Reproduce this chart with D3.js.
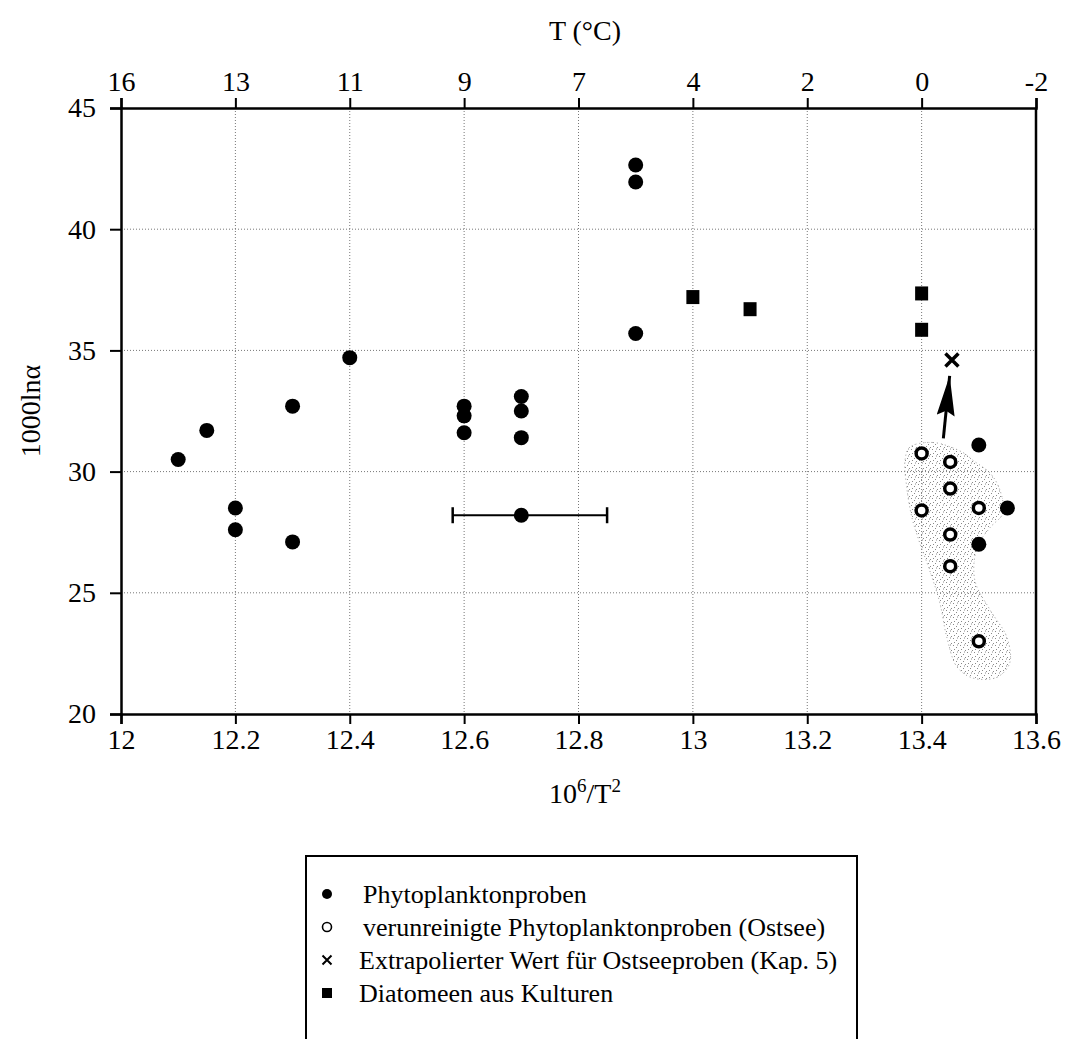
<!DOCTYPE html>
<html lang="de">
<head>
<meta charset="UTF-8"/>
<title>1000ln alpha vs 10^6/T^2</title>
<script src="https://d3js.org/d3.v7.min.js"></script>
<style>
  body { margin: 0; background: #fff; }
  svg text { font-family: "Liberation Serif", "DejaVu Serif", serif; fill: #000; }
  .axis path, .axis line { stroke: #000; }
</style>
</head>
<body>
<div id="chart"></div>
<script>

// window size
var w = 1077;
var h = 1039;

// plot area
var padLeft = 121, padRight = 1036, padTop = 108, padBottom = 714;

// tick values and labels
var xTicks = [12, 12.2, 12.4, 12.6, 12.8, 13, 13.2, 13.4, 13.6];
var tempLabels = ["16", "13", "11", "9", "7", "4", "2", "0", "-2"];
var yTicks = [20, 25, 30, 35, 40, 45];

// Phytoplanktonproben (filled circles)
var phytoX = [12.1, 12.15, 12.2, 12.2, 12.3, 12.3, 12.4, 12.6, 12.6, 12.6, 12.7, 12.7, 12.7, 12.7, 12.9, 12.9, 12.9, 13.5, 13.55, 13.5];
var phytoY = [30.5, 31.7, 28.5, 27.6, 32.7, 27.1, 34.7, 32.7, 32.3, 31.6, 33.1, 32.5, 31.4, 28.2, 42.65, 41.95, 35.7, 31.1, 28.5, 27.0];

// error bar on the point at 12.7 / 28.2
var errX = [12.58, 12.85];
var errY = 28.2;

// verunreinigte Phytoplanktonproben (Ostsee), open circles
var ostX = [13.4, 13.45, 13.45, 13.4, 13.5, 13.45, 13.45, 13.5];
var ostY = [30.75, 30.4, 29.3, 28.4, 28.5, 27.4, 26.1, 23.0];

// Extrapolierter Wert (cross)
var extraX = [13.453];
var extraY = [34.6];

// arrow from the Ostsee cloud to the extrapolated value
var arrowX = [13.438, 13.449];
var arrowY = [31.37, 33.95];

// Diatomeen aus Kulturen (squares)
var diaX = [13.0, 13.1, 13.4, 13.4];
var diaY = [37.2, 36.7, 37.35, 35.85];

// outline of the stippled area round the Ostsee samples
var blobX = [13.379, 13.42, 13.472, 13.49, 13.52, 13.537, 13.542, 13.52, 13.497, 13.493, 13.52, 13.549, 13.554, 13.532, 13.49, 13.462, 13.444, 13.432, 13.414, 13.397, 13.383, 13.374, 13.371];
var blobY = [31.0, 31.2, 30.79, 30.46, 29.93, 29.23, 28.28, 27.7, 26.88, 25.52, 24.28, 23.17, 22.1, 21.52, 21.48, 21.94, 23.17, 24.57, 25.93, 27.04, 28.11, 29.35, 30.46];

// legend entries
var legendNames = [
  "Phytoplanktonproben",
  "verunreinigte Phytoplanktonproben (Ostsee)",
  "Extrapolierter Wert für Ostseeproben (Kap. 5)",
  "Diatomeen aus Kulturen"
];
var legendKinds = ["filled", "open", "cross", "square"];

var xScale = d3.scaleLinear().domain([12, 13.6]).range([padLeft, padRight]);
var yScale = d3.scaleLinear().domain([20, 45]).range([padBottom, padTop]);

var svg = d3.select("#chart")
            .append("svg")
            .attr("width", w)
            .attr("height", h);

// stipple pattern
var defs = svg.append("defs");
var pat = defs.append("pattern")
              .attr("id", "stipple")
              .attr("width", 7)
              .attr("height", 7)
              .attr("patternUnits", "userSpaceOnUse");
[[1, 1], [4, 3], [2, 5], [6, 6], [5, 0.5]].forEach(function(p) {
  pat.append("rect").attr("x", p[0]).attr("y", p[1])
     .attr("width", 1).attr("height", 1).attr("fill", "#8a8a8a");
});
defs.append("marker")
    .attr("id", "head")
    .attr("viewBox", "0 0 40 18")
    .attr("refX", 40).attr("refY", 9)
    .attr("markerUnits", "userSpaceOnUse")
    .attr("markerWidth", 40).attr("markerHeight", 18)
    .attr("orient", "auto")
    .append("path")
    .attr("d", "M0,0 L40,9 L0,18 L5,9 Z")
    .attr("fill", "#000");

// grid lines
svg.append("g")
   .selectAll("line")
   .data(xTicks.slice(1, -1))
   .enter()
   .append("line")
   .attr("x1", function(d) { return xScale(d); })
   .attr("x2", function(d) { return xScale(d); })
   .attr("y1", padTop)
   .attr("y2", padBottom)
   .attr("stroke", "#777")
   .attr("stroke-width", 1)
   .attr("stroke-dasharray", "1,2");

svg.append("g")
   .selectAll("line")
   .data(yTicks.slice(1, -1))
   .enter()
   .append("line")
   .attr("x1", padLeft)
   .attr("x2", padRight)
   .attr("y1", function(d) { return yScale(d); })
   .attr("y2", function(d) { return yScale(d); })
   .attr("stroke", "#777")
   .attr("stroke-width", 1)
   .attr("stroke-dasharray", "1,2");

// stippled area
var blobPts = blobX.map(function(d, i) { return [xScale(d), yScale(blobY[i])]; });
svg.append("path")
   .attr("d", d3.line().curve(d3.curveCatmullRomClosed)(blobPts))
   .attr("fill", "url(#stipple)")
   .attr("stroke", "#999")
   .attr("stroke-width", 1)
   .attr("stroke-dasharray", "1,3");

// axes
var xAxis = d3.axisBottom(xScale)
              .tickValues(xTicks)
              .tickSize(10)
              .tickPadding(5)
              .tickFormat(function(d) { return String(+d.toFixed(1)); });
var topAxis = d3.axisTop(xScale)
                .tickValues(xTicks)
                .tickSize(10)
                .tickPadding(7)
                .tickFormat(function(d, i) { return tempLabels[i]; });
var yAxis = d3.axisLeft(yScale)
              .tickValues(yTicks)
              .tickSize(11)
              .tickPadding(14)
              .tickFormat(d3.format("d"));

function styleAxis(g) {
  g.select(".domain").attr("stroke-width", 2.5);
  g.selectAll(".tick line").attr("stroke-width", 2);
  g.selectAll(".tick text").attr("font-size", 28).attr("font-family", "Liberation Serif");
}

svg.append("g").attr("class", "axis")
   .attr("transform", "translate(0," + padBottom + ")")
   .call(xAxis).call(styleAxis);
svg.append("g").attr("class", "axis")
   .attr("transform", "translate(0," + padTop + ")")
   .call(topAxis).call(styleAxis);
svg.append("g").attr("class", "axis")
   .attr("transform", "translate(" + padLeft + ",0)")
   .call(yAxis).call(styleAxis);
svg.append("line")
   .attr("x1", padRight).attr("x2", padRight)
   .attr("y1", padTop).attr("y2", padBottom)
   .attr("stroke", "#000").attr("stroke-width", 2.5);

// axis titles
svg.append("text")
   .attr("x", 585)
   .attr("y", 40)
   .attr("text-anchor", "middle")
   .attr("font-size", 28)
   .text("T (°C)");

var xt = svg.append("text")
            .attr("x", 585)
            .attr("y", 803)
            .attr("text-anchor", "middle")
            .attr("font-size", 28);
xt.append("tspan").text("10");
xt.append("tspan").attr("dy", -11).attr("font-size", 19).text("6");
xt.append("tspan").attr("dy", 11).text("/T");
xt.append("tspan").attr("dy", -11).attr("font-size", 19).text("2");

svg.append("text")
   .attr("transform", "translate(40," + ((padTop + padBottom) / 2) + ") rotate(-90)")
   .attr("text-anchor", "middle")
   .attr("font-size", 28)
   .text("1000lnα");

// error bar
svg.append("line")
   .attr("x1", xScale(errX[0])).attr("x2", xScale(errX[1]))
   .attr("y1", yScale(errY)).attr("y2", yScale(errY))
   .attr("stroke", "#000").attr("stroke-width", 2);
svg.selectAll(".cap")
   .data(errX)
   .enter()
   .append("line")
   .attr("class", "cap")
   .attr("x1", function(d) { return xScale(d); })
   .attr("x2", function(d) { return xScale(d); })
   .attr("y1", yScale(errY) - 8)
   .attr("y2", yScale(errY) + 8)
   .attr("stroke", "#000").attr("stroke-width", 2.5);

// arrow
svg.append("line")
   .attr("x1", xScale(arrowX[0])).attr("y1", yScale(arrowY[0]))
   .attr("x2", xScale(arrowX[1])).attr("y2", yScale(arrowY[1]))
   .attr("stroke", "#000").attr("stroke-width", 3)
   .attr("marker-end", "url(#head)");

// filled circles
svg.append("g")
   .selectAll("circle")
   .data(phytoX)
   .enter()
   .append("circle")
   .attr("cx", function(d) { return xScale(d); })
   .attr("cy", function(d, i) { return yScale(phytoY[i]); })
   .attr("r", 7.5)
   .attr("fill", "#000");

// open circles
svg.append("g")
   .selectAll("circle")
   .data(ostX)
   .enter()
   .append("circle")
   .attr("cx", function(d) { return xScale(d); })
   .attr("cy", function(d, i) { return yScale(ostY[i]); })
   .attr("r", 5.5)
   .attr("fill", "#fff")
   .attr("stroke", "#000")
   .attr("stroke-width", 3.5);

// squares
svg.append("g")
   .selectAll("rect")
   .data(diaX)
   .enter()
   .append("rect")
   .attr("x", function(d) { return xScale(d) - 6.5; })
   .attr("y", function(d, i) { return yScale(diaY[i]) - 7; })
   .attr("width", 13)
   .attr("height", 14)
   .attr("fill", "#000");

// cross
svg.append("g")
   .selectAll("path")
   .data(extraX)
   .enter()
   .append("path")
   .attr("d", function(d, i) {
     var cx = xScale(d), cy = yScale(extraY[i]), s = 6.5;
     return "M" + (cx - s) + "," + (cy - s) + "L" + (cx + s) + "," + (cy + s) +
            "M" + (cx - s) + "," + (cy + s) + "L" + (cx + s) + "," + (cy - s);
   })
   .attr("stroke", "#000")
   .attr("stroke-width", 3.5);

// legend
var lgX = 306, lgX2 = 857, lgY = 856;
svg.append("path")
   .attr("d", "M" + lgX + "," + (h + 5) + "V" + lgY + "H" + lgX2 + "V" + (h + 5))
   .attr("fill", "none")
   .attr("stroke", "#000")
   .attr("stroke-width", 2);

var rowY = d3.scalePoint().domain(d3.range(legendNames.length)).range([894, 993]);
var lg = svg.append("g")
            .selectAll("g")
            .data(legendNames)
            .enter()
            .append("g")
            .attr("transform", function(d, i) { return "translate(327," + rowY(i) + ")"; });

lg.append("text")
  .attr("x", function(d, i) { return i < 2 ? 36 : 32; })
  .attr("y", 9)
  .attr("font-size", 26)
  .text(function(d) { return d; });

lg.each(function(d, i) {
  var g = d3.select(this);
  var k = legendKinds[i];
  if (k === "filled") {
    g.append("circle").attr("r", 5).attr("fill", "#000");
  } else if (k === "open") {
    g.append("circle").attr("r", 4.5).attr("fill", "none").attr("stroke", "#000").attr("stroke-width", 1.6);
  } else if (k === "cross") {
    g.append("path").attr("d", "M-4.5,-4.5L4.5,4.5M-4.5,4.5L4.5,-4.5")
     .attr("stroke", "#000").attr("stroke-width", 2);
  } else {
    g.append("rect").attr("x", -5).attr("y", -5).attr("width", 10).attr("height", 10).attr("fill", "#000");
  }
});

</script>
</body>
</html>
